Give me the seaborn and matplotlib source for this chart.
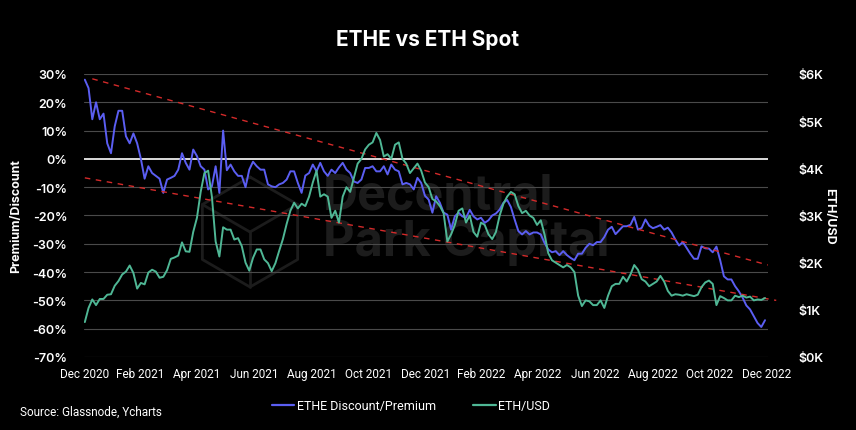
import numpy as np
import pandas as pd
import matplotlib
matplotlib.use('Agg')
import matplotlib.pyplot as plt
import seaborn as sns
from matplotlib.lines import Line2D

# ETHE discount/premium in %, read every 4 days starting 2021-01-01
ethe_premium = [
    28, 25, 14, 20, 14, 16, 5.5, 2, 11.5, 17,
    17, 8, 5.5, 9, 5.5, 0, -7, -2.6, -5, -6,
    -7, -12, -7.3, -6.7, -6, -3.8, 2, -1.4, -3.8, 3.3,
    1, -2.6, -3.8, -10.8, -9.7, -2.6, -12, 10, -4, -2,
    -4.4, -6, -6, -10, -3.8, -1, -2.6, -3.8, -3.8, -9,
    -9.7, -10, -9, -8.5, -7.3, -4.4, -4.4, -8.5, -12, -5.9,
    -5, -2, -4.4, -1.4, -4.4, -6, -3.8, -5, -3, -1.4,
    -3.8, -5, -8, -8.5, -7.3, -3.2, -3.2, -2.6, -4.4, -4.4,
    -2.6, -5.5, -2, -3.8, -4.4, -9, -8.5, -9, -10.8, -6.7,
    -8.5, -13, -14.4, -19, -13.2, -15.5, -19, -19.7, -25, -20.3,
    -19, -20.3, -20.8, -18, -20.3, -21.4, -20.8, -22.6, -21.7, -20,
    -19.3, -17.9, -15.5, -14.5, -17, -21.4, -25.5, -26.7, -25.5, -26.7,
    -26, -26, -26.7, -29.7, -32, -33, -32.6, -34, -32.6, -34,
    -35, -35.8, -33.5, -33.5, -31.4, -30, -30.5, -29.4, -29.4, -27.6,
    -25, -24, -26.6, -25.2, -23.8, -23.8, -23.3, -20.5, -25, -24.4,
    -21.4, -23.6, -24.5, -24, -23.4, -25, -24.3, -26, -28.5, -30.6,
    -29.4, -31.4, -33.5, -35.3, -35.3, -30.9, -31.6, -31.7, -33, -31,
    -35.8, -41.5, -42.6, -42.6, -45, -46.8, -49, -51.8, -53.2, -55.6,
    -58, -59.4, -57,
]

# ETH/USD, every 4 days starting 2021-01-01
eth_usd = [
    740, 1040, 1220, 1100, 1230, 1230, 1320, 1330, 1510, 1610,
    1750, 1810, 1940, 1780, 1450, 1570, 1540, 1790, 1850, 1810,
    1680, 1700, 1840, 2080, 2110, 2150, 2430, 2240, 2230, 2650,
    2950, 3500, 3900, 3950, 3400, 2450, 2130, 2750, 2700, 2700,
    2490, 2520, 2350, 2000, 1830, 2100, 2280, 2280, 2070, 1990,
    1820, 1990, 2250, 2500, 2820, 3100, 3270, 3150, 3250, 3200,
    3400, 3700, 3950, 3400, 3450, 3400, 2950, 3100, 2850, 3400,
    3600, 3500, 3800, 4100, 4200, 4400, 4500, 4550, 4750, 4600,
    4250, 4300, 4200, 4500, 4550, 4200, 4100, 3900, 4000, 4100,
    3950, 3700, 3600, 3350, 3300, 3200, 3050, 2450, 2600, 2800,
    3100, 3150, 2850, 3000, 2650, 2550, 2850, 2800, 2600, 2500,
    2650, 3000, 3250, 3400, 3500, 3450, 3200, 3050, 3100, 3000,
    2950, 2800, 2900, 2600, 2200, 2050, 2000, 1950, 1900, 1950,
    1900, 1800, 1300, 1080, 1200, 1180, 1100, 1100, 1200, 1040,
    1300, 1500, 1550, 1550, 1700, 1600, 1750, 1950, 1850, 1650,
    1600, 1500, 1550, 1600, 1720, 1600, 1400, 1300, 1330, 1320,
    1300, 1330, 1310, 1290, 1320, 1480, 1580, 1620, 1550, 1100,
    1290, 1250, 1200, 1200, 1300, 1270, 1300, 1260, 1280, 1200,
    1220, 1210, 1250,
]

# dashed channel lines (start, end)
upper_dates = ['2021-01-09', '2023-01-02']
upper_trend = [28.3, -37.5]
lower_dates = ['2021-01-01', '2023-01-11']
lower_trend = [-6.7, -50.0]

tick_labels = ['Dec 2020', 'Feb 2021', 'Apr 2021', 'Jun 2021', 'Aug 2021',
               'Oct 2021', 'Dec 2021', 'Feb 2022', 'Apr 2022', 'Jun 2022',
               'Aug 2022', 'Oct 2022', 'Dec 2022']
left_ticks = [30, 20, 10, 0, -10, -20, -30, -40, -50, -60, -70]
right_ticks = [0, 1000, 2000, 3000, 4000, 5000, 6000]

BLUE = '#5b5ef2'
GREEN = '#4fb795'
RED = '#d42a2a'
GRID = '#4a4a4a'
WM = '#1c1c1c'

ethe_df = pd.DataFrame({
    'date': pd.date_range('2021-01-01', periods=len(ethe_premium), freq='4D'),
    'premium': ethe_premium,
})
eth_df = pd.DataFrame({
    'date': pd.date_range('2021-01-01', periods=len(eth_usd), freq='4D'),
    'price': eth_usd,
})

sns.set_theme(style='dark')
plt.rcParams['font.family'] = ['Inter', 'DejaVu Sans']
narrow = ['Roboto', 'DejaVu Sans']

fig = plt.figure(figsize=(8.56, 4.31), dpi=100, facecolor='black')
ax = fig.add_axes([0.098, 0.1694, 0.799, 0.6566])
ax.set_facecolor('none')
ax2 = ax.twinx()
ax2.patch.set_visible(False)

# watermark: cube outline + name
cx, cy, r = 250 / 856, 1 - 233 / 431, 55
ang = np.deg2rad(np.arange(90, 451, 60))
fig.add_artist(Line2D(cx + r * np.cos(ang) / 856, cy + r * np.sin(ang) / 431,
                      color=WM, lw=2, zorder=-1))
for a in np.deg2rad([90, 210, 330]):
    fig.add_artist(Line2D([cx, cx - r * np.cos(a) / 856], [cy, cy - r * np.sin(a) / 431],
                          color=WM, lw=2, zorder=-1))
fig.text(323 / 856, 1 - 220 / 431, 'Decentral\nPark Capital', color=WM,
         fontsize=35, fontweight='bold', ha='left', va='center',
         linespacing=1.0, zorder=-1)

for t in left_ticks:
    if t == 0:
        ax.axhline(t, color='white', lw=1.2, zorder=1)
    else:
        ax.axhline(t, color=GRID, lw=0.8, zorder=1)

sns.lineplot(data=ethe_df, x='date', y='premium', ax=ax, color=BLUE, lw=1.4, zorder=3)
sns.lineplot(data=eth_df, x='date', y='price', ax=ax2, color=GREEN, lw=1.4, zorder=3)
ax.plot(pd.to_datetime(upper_dates), upper_trend, color=RED, lw=1, ls=(0, (4, 4)),
        zorder=4, clip_on=False)
ax.plot(pd.to_datetime(lower_dates), lower_trend, color=RED, lw=1, ls=(0, (4, 4)),
        zorder=4, clip_on=False)

ax.set_xlim(pd.Timestamp('2020-12-31'), pd.Timestamp('2023-01-02'))
ax.set_ylim(-70, 30)
ax2.set_ylim(0, 6000)

ax.set_xticks(pd.date_range('2021-01-01', '2023-01-01', freq='2MS'))
ax.set_xticklabels(tick_labels, family=narrow, fontsize=8.5, color='white')
ax.set_yticks(left_ticks)
ax.set_yticklabels([f'{t}%' for t in left_ticks], fontsize=9, fontweight='semibold', color='white')
ax2.set_yticks(right_ticks)
ax2.set_yticklabels([f'${t // 1000}K' for t in right_ticks], fontsize=9, fontweight='semibold', color='white')
ax.tick_params(axis='x', length=0, pad=7)
ax.tick_params(axis='y', length=0, pad=12)
ax2.tick_params(axis='y', length=0, pad=22)
ax.grid(False)
ax2.grid(False)
for a in (ax, ax2):
    for s in a.spines.values():
        s.set_visible(False)

ax.set_xlabel('')
ax.set_ylabel('Premium/Discount', color='white', fontsize=9, fontweight='bold')
ax.yaxis.set_label_coords(-0.09, 0.5)
ax2.set_ylabel('ETH/USD', color='white', fontsize=9, fontweight='bold', rotation=270, va='center')
ax2.yaxis.set_label_coords(1.09, 0.5)

fig.text(0.5, 1 - 40 / 431, 'ETHE vs ETH Spot', color='white', fontsize=15,
         fontweight='bold', ha='center', va='center')
fig.text(20 / 856, 1 - 412 / 431, 'Source: Glassnode, Ycharts', color='white',
         fontsize=8.5, family=narrow, ha='left', va='center')

handles = [Line2D([], [], color=BLUE, lw=1.6), Line2D([], [], color=GREEN, lw=1.6)]
leg = fig.legend(handles, ['ETHE Discount/Premium', 'ETH/USD'], ncol=2, loc='center',
                 bbox_to_anchor=(411 / 856, 1 - 407 / 431), frameon=False,
                 handlelength=1.8, handletextpad=0.2, columnspacing=3,
                 prop={'family': narrow, 'size': 9})
for txt in leg.get_texts():
    txt.set_color('white')

fig.savefig('out.png', dpi=100, facecolor='black')
